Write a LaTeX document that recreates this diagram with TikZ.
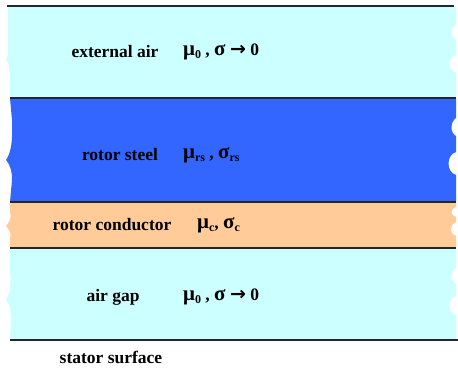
\documentclass[tikz,border=0pt]{standalone}
\usepackage{fontspec}
\setmainfont{Liberation Serif}
\newfontfamily\arrfont{DejaVu Sans}
\definecolor{aircol}{HTML}{CCFFFF}
\definecolor{steelcol}{HTML}{3366FF}
\definecolor{condcol}{HTML}{FFCC99}
\newcommand{\sbs}[1]{\raisebox{-0.4ex}{\fontsize{12}{13}\selectfont #1}}
\newcommand{\gk}[1]{{\fontsize{21}{22}\selectfont #1}}
\newcommand{\toarr}{{\arrfont\bfseries\fontsize{19}{20}\selectfont →}}
\begin{document}
\begin{tikzpicture}[x=1pt,y=-1pt,
  lbl/.style={font=\fontsize{17.5}{20}\selectfont\bfseries, inner sep=0pt},
  prop/.style={font=\fontsize{17.5}{20}\selectfont\bfseries, inner sep=0pt, anchor=west},
  bound/.style={line width=1.3pt, black!85}]
\useasboundingbox (0,0) rectangle (458,370);
% external air band
\fill[aircol] (8,6) -- (456,6) -- (456,25) .. controls (450,27) and (450,37) .. (456,40)
  -- (456,55) .. controls (447,57) and (447,70) .. (456,73) -- (456,98) -- (10,98)
  -- (10,75) .. controls (8,70) and (11,64) .. (6,60) .. controls (9,55) and (8,48) .. (8,40) -- cycle;
% rotor steel band
\fill[steelcol] (10,98) -- (456,98) -- (456,118) .. controls (450,122) and (450,133) .. (456,136)
  -- (456,152) .. controls (446,155) and (446,172) .. (456,175) -- (456,202) -- (10,202)
  -- (12,180) .. controls (12,172) and (11,166) .. (6,160) .. controls (10,154) and (13,145) .. (12,120) -- cycle;
% rotor conductor band
\fill[condcol] (10,202) -- (456,202) -- (456,207) .. controls (450,210) and (450,215) .. (456,217)
  -- (456,222) .. controls (449,226) and (449,233) .. (456,236) -- (456,248) -- (10,248)
  -- (10,238) .. controls (12,233) and (9,230) .. (6,226) .. controls (9,222) and (12,219) .. (10,212) -- cycle;
% air gap band
\fill[aircol] (10,248) -- (456,248) -- (456,268) .. controls (450,271) and (450,282) .. (456,284)
  -- (456,296) .. controls (447,299) and (447,312) .. (456,315) -- (456,340) -- (10,340)
  -- (11,318) .. controls (10,310) and (11,305) .. (6,300) .. controls (10,294) and (11,288) .. (10,270) -- cycle;
% boundaries
\coordinate (b1l) at (7,6);   \coordinate (b1r) at (454,6);
\coordinate (b2l) at (10,98); \coordinate (b2r) at (456,98);
\coordinate (b3l) at (10,202);\coordinate (b3r) at (456,202);
\coordinate (b4l) at (10,248);\coordinate (b4r) at (456,248);
\coordinate (b5l) at (10,340);\coordinate (b5r) at (458,340);
\draw[bound] (b1l) -- (b1r);
\draw[bound] (b2l) -- (b2r);
\draw[bound] (b3l) -- (b3r);
\draw[bound] (b4l) -- (b4r);
\draw[bound] (b5l) -- (b5r);
% labels
\node[lbl] (ext) at (115,52) {external air};
\node[prop] (extp) at (183,52) {\gk{μ}\sbs{0} , \gk{σ} \toarr{} 0};
\node[lbl] (steel) at (120,155) {rotor steel};
\node[prop] (steelp) at (183,155) {\gk{μ}\sbs{rs} , \gk{σ}\sbs{rs}};
\node[lbl] (cond) at (112,225) {rotor conductor};
\node[prop] (condp) at (197,225) {\gk{μ}\sbs{c}, \gk{σ}\sbs{c}};
\node[lbl] (gap) at (113,297) {air gap};
\node[prop] (gapp) at (183,297) {\gk{μ}\sbs{0} , \gk{σ} \toarr{} 0};
\node[lbl] (stator) at (111,357) {stator surface};
\end{tikzpicture}
\end{document}
